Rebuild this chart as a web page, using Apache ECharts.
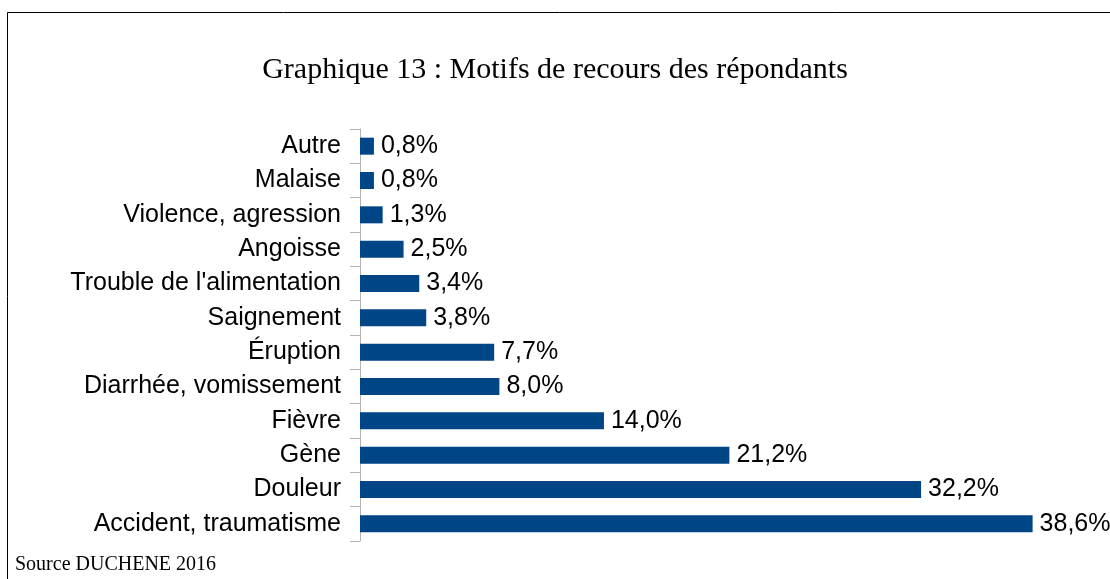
<!DOCTYPE html>
<html>
<head>
<meta charset="utf-8">
<script src="https://cdn.jsdelivr.net/npm/echarts@6/dist/echarts.min.js"></script>
<style>
  html, body { margin: 0; padding: 0; background: #fff; }
  #main { width: 1110px; height: 579px; }
</style>
</head>
<body>
<div id="main"></div>
<script>
// motifs, de haut en bas
var categories = ['Autre', 'Malaise', 'Violence, agression', 'Angoisse', "Trouble de l'alimentation",
  'Saignement', 'Éruption', 'Diarrhée, vomissement', 'Fièvre', 'Gène', 'Douleur', 'Accident, traumatisme'];
var values = [0.8, 0.8, 1.3, 2.5, 3.4, 3.8, 7.7, 8.0, 14.0, 21.2, 32.2, 38.6];

var chart = echarts.init(document.getElementById('main'));

var option = {
  animation: false,
  title: {
    text: 'Graphique 13 : Motifs de recours des répondants',
    left: 'center',
    top: 50,
    textStyle: {
      fontFamily: 'Liberation Serif',
      fontWeight: 'normal',
      fontSize: 30,
      color: '#000'
    }
  },
  graphic: [
    // cadre
    {
      type: 'rect',
      shape: { x: 7.5, y: 12.5, width: 1200, height: 700 },
      style: { fill: null, stroke: '#000', lineWidth: 1 }
    },
    {
      type: 'text',
      left: 15,
      top: 555,
      style: {
        text: 'Source DUCHENE 2016',
        font: '20px "Liberation Serif"',
        fill: '#000'
      }
    }
  ],
  grid: { left: 360, top: 129, width: 697, height: 412 },
  xAxis: {
    type: 'value',
    min: 0,
    max: 40,
    show: false
  },
  yAxis: {
    type: 'category',
    data: categories,
    inverse: true,
    axisLine: { show: true, lineStyle: { color: '#b3b3b3', width: 1 } },
    axisTick: { show: true, length: 10, lineStyle: { color: '#b3b3b3', width: 1 } },
    axisLabel: {
      margin: 19,
      padding: [10, 0, 0, 0],
      fontFamily: 'Liberation Sans',
      fontSize: 25,
      color: '#000'
    }
  },
  series: [
    {
      type: 'bar',
      data: values,
      barWidth: 17,
      itemStyle: { color: '#004586' },
      label: {
        show: true,
        position: 'right',
        distance: 7,
        padding: [10, 0, 0, 0],
        fontFamily: 'Liberation Sans',
        fontSize: 25,
        color: '#000',
        formatter: function (p) {
          return p.value.toFixed(1).replace('.', ',') + '%';
        }
      }
    }
  ]
};

chart.setOption(option);
</script>
</body>
</html>
